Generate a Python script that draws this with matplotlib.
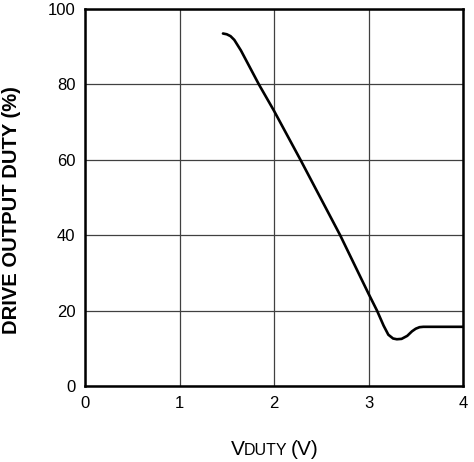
import matplotlib
matplotlib.use("Agg")
import matplotlib.pyplot as plt

# curve
v_duty = [1.46, 1.50, 1.54, 1.58, 1.65, 1.84, 2.00, 2.28, 2.70, 3.00, 3.09,
          3.16, 3.21, 3.26, 3.30, 3.35, 3.41, 3.46, 3.50, 3.54, 3.58, 4.00]
duty = [93.5, 93.3, 92.8, 91.8, 89.0, 80.0, 73.0, 60.0, 40.0, 24.5, 20.0,
        16.0, 13.6, 12.6, 12.4, 12.5, 13.3, 14.5, 15.2, 15.6, 15.7, 15.7]

x_ticks = [0, 1, 2, 3, 4]
y_ticks = [0, 20, 40, 60, 80, 100]

plt.rcParams['font.family'] = ['Liberation Sans', 'DejaVu Sans']

fig = plt.figure(figsize=(4.74, 4.62), dpi=100)
ax = fig.add_axes([85 / 474, 76 / 462, 378 / 474, 377 / 462])

ax.plot(v_duty, duty, color='black', lw=1.9, solid_capstyle='round')

ax.set_xlim(0, 4)
ax.set_ylim(0, 100)
ax.set_xticks(x_ticks)
ax.set_yticks(y_ticks)
ax.tick_params(length=0, labelsize=12, pad=7)
ax.grid(True, color='#404040', lw=0.9)
ax.set_axisbelow(True)
for s in ax.spines.values():
    s.set_linewidth(1.8)

# y label placed by hand, a bit above axis centre like the original
fig.text(12 / 474, 1 - 210 / 462, 'DRIVE OUTPUT DUTY (%)', fontsize=14.5,
         fontweight='bold', rotation=90, va='center', ha='center')

# x label: V + small caps DUTY on one baseline
base = 1 - 455 / 462
fig.text(231 / 474, base, 'V', fontsize=15, va='baseline', ha='left')
fig.text(244 / 474, base, 'DUTY', fontsize=11.5, va='baseline', ha='left')
fig.text(291 / 474, base, '(V)', fontsize=15, va='baseline', ha='left')

fig.savefig('out.png', dpi=100)
